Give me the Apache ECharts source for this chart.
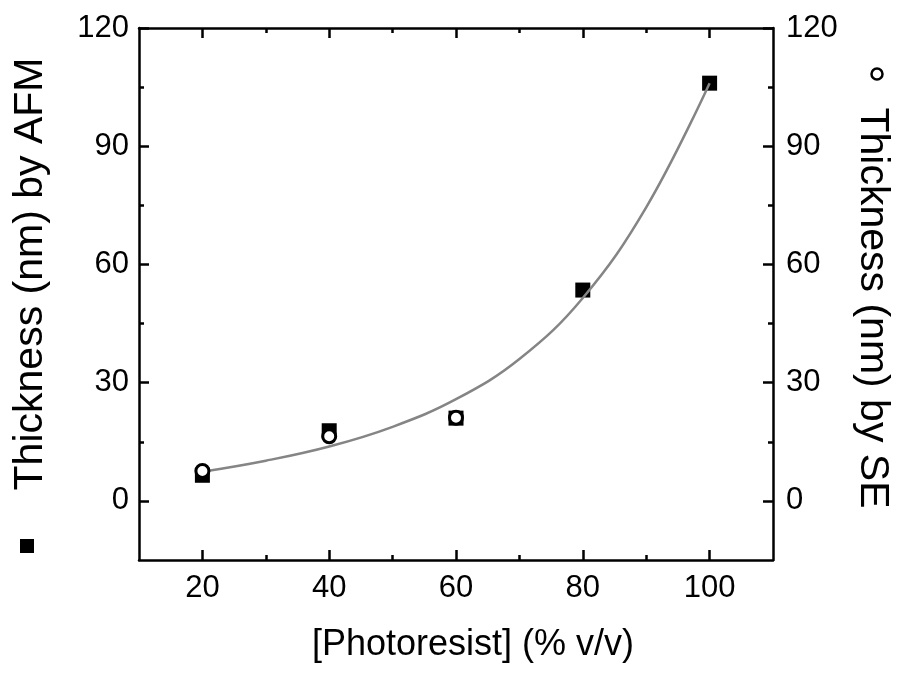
<!DOCTYPE html>
<html>
<head>
<meta charset="utf-8">
<script src="https://cdn.jsdelivr.net/npm/echarts@6/dist/echarts.min.js"></script>
<style>html,body{margin:0;padding:0;background:#fff}#c{width:897px;height:673px}</style>
</head>
<body>
<div id="c"></div>
<script>
// ---- data ----
const concentration = [20, 40, 60, 80, 100];
const thicknessAFM = [6.5, 17.8, 21.0, 53.5, 106.0];
const concentrationSE = [20, 40, 60];
const thicknessSE = [7.6, 16.4, 21.1];
const fitX = [20, 30, 40, 50, 60, 70, 80, 90, 100];
const fitY = [7.4, 10.2, 13.8, 18.8, 25.8, 36.0, 51.5, 74.5, 106.0];
const xMajorTicks = [20, 40, 60, 80, 100];
const xMinorTicks = [30, 50, 70, 90];
const yMajorTicks = [0, 30, 60, 90, 120];
const yMinorTicks = [15, 45, 75, 105];
const xTitle = '[Photoresist] (% v/v)';
const yLeftTitle = 'Thickness (nm) by AFM';
const yRightTitle = 'Thickness (nm) by SE';

const FONT = '"Liberation Sans", Arial, sans-serif';
const LW = 2.5;
const X_MIN = 10, X_MAX = 110, Y_MIN = -15, Y_MAX = 120;

function xAx(pos, major, showLabel, showLine) {
  return {
    type: 'value', position: pos, min: X_MIN, max: X_MAX, interval: 10,
    splitLine: { show: false },
    axisLine: { show: showLine, onZero: false, lineStyle: { color: '#000', width: LW } },
    axisTick: { show: true, inside: true, length: major ? 10 : 5,
      customValues: major ? xMajorTicks : xMinorTicks,
      lineStyle: { color: '#000', width: LW } },
    axisLabel: { show: showLabel, customValues: xMajorTicks, margin: 13,
      color: '#000', fontSize: 31, fontFamily: FONT }
  };
}
function yAx(pos, major, showLabel, showLine, margin) {
  return {
    type: 'value', position: pos, min: Y_MIN, max: Y_MAX, interval: 15,
    splitLine: { show: false },
    axisLine: { show: showLine, onZero: false, lineStyle: { color: '#000', width: LW } },
    axisTick: { show: true, inside: true, length: major ? 10 : 5,
      customValues: major ? yMajorTicks : yMinorTicks,
      lineStyle: { color: '#000', width: LW } },
    axisLabel: { show: showLabel, customValues: yMajorTicks, margin: margin,
      color: '#000', fontSize: 31, fontFamily: FONT }
  };
}

const chart = echarts.init(document.getElementById('c'), null, { renderer: 'canvas' });
chart.setOption({
  animation: false,
  backgroundColor: '#fff',
  grid: { left: 139, right: 124, top: 28, bottom: 113 },
  xAxis: [
    xAx('bottom', true, true, true),
    xAx('top', true, false, true),
    xAx('bottom', false, false, false),
    xAx('top', false, false, false)
  ],
  yAxis: [
    yAx('left', true, true, true, 10),
    yAx('right', true, true, true, 13),
    yAx('left', false, false, false, 10),
    yAx('right', false, false, false, 10)
  ],
  graphic: [
    { type: 'text', x: 473, y: 645, style: { text: xTitle, font: '36px ' + FONT, fill: '#000', textAlign: 'center', textVerticalAlign: 'middle' } },
    { type: 'text', x: 31, y: 274, rotation: Math.PI / 2, style: { text: yLeftTitle, font: '41px ' + FONT, fill: '#000', textAlign: 'center', textVerticalAlign: 'middle' } },
    { type: 'rect', shape: { x: 20, y: 539, width: 14, height: 14 }, style: { fill: '#000' } },
    { type: 'text', x: 872, y: 308, rotation: -Math.PI / 2, style: { text: yRightTitle, font: '41px ' + FONT, fill: '#000', textAlign: 'center', textVerticalAlign: 'middle' } },
    { type: 'circle', shape: { cx: 877, cy: 74, r: 5.5 }, style: { fill: '#fff', stroke: '#000', lineWidth: 2.5 } }
  ],
  series: [
    {
      name: 'AFM', type: 'scatter', xAxisIndex: 0, yAxisIndex: 0, z: 2,
      symbol: 'rect', symbolSize: 15,
      itemStyle: { color: '#000', opacity: 1 },
      data: concentration.map((x, i) => [x, thicknessAFM[i]])
    },
    {
      name: 'Fit', type: 'line', xAxisIndex: 0, yAxisIndex: 0, z: 3,
      smooth: 0.4, showSymbol: false, symbol: 'none',
      lineStyle: { color: '#858585', width: 2.5 },
      data: fitX.map((x, i) => [x, fitY[i]])
    },
    {
      name: 'SE', type: 'scatter', xAxisIndex: 0, yAxisIndex: 1, z: 4,
      symbol: 'circle', symbolSize: 13,
      itemStyle: { color: '#fff', borderColor: '#000', borderWidth: 3, opacity: 1 },
      data: concentrationSE.map((x, i) => [x, thicknessSE[i]])
    }
  ]
});
</script>
</body>
</html>
